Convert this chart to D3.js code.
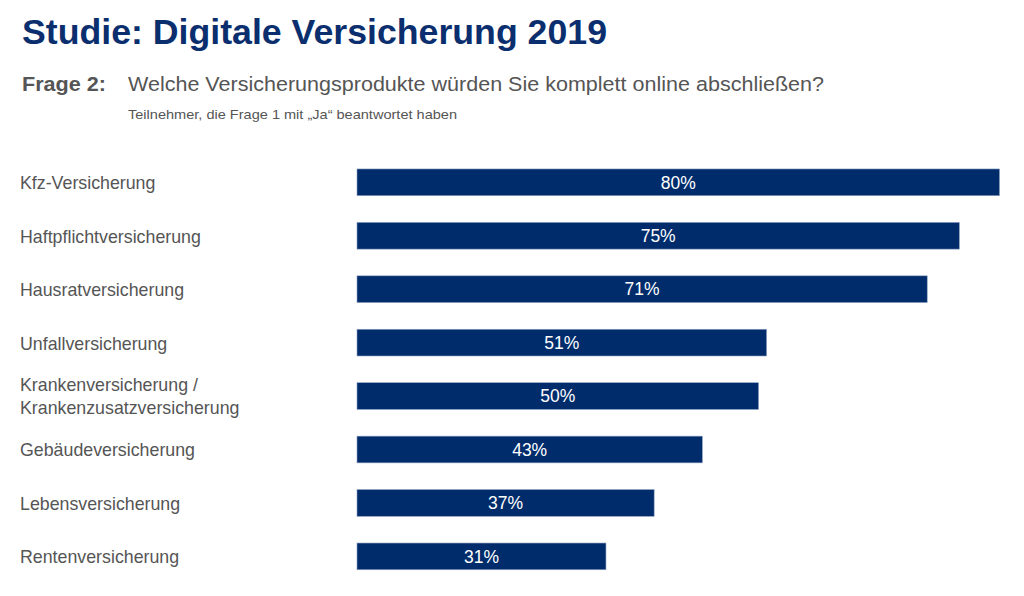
<!DOCTYPE html>
<html><head><meta charset="utf-8">
<script src="https://cdn.jsdelivr.net/npm/d3@7"></script>
<style>body{margin:0;background:#fff}svg{display:block}</style>
</head><body>
<svg id="c" width="1024" height="596"></svg>
<script>
const categories = [
  ["Kfz-Versicherung"],
  ["Haftpflichtversicherung"],
  ["Hausratversicherung"],
  ["Unfallversicherung"],
  ["Krankenversicherung /", "Krankenzusatzversicherung"],
  ["Gebäudeversicherung"],
  ["Lebensversicherung"],
  ["Rentenversicherung"]
];
const values = [80, 75, 71, 51, 50, 43, 37, 31];
const valueLabels = ["80%", "75%", "71%", "51%", "50%", "43%", "37%", "31%"];

const svg = d3.select("#c");
const font = "'Liberation Sans', Arial, Helvetica, sans-serif";
const blue = "#002c6c";
const grey = "#555555";

svg.append("text").attr("x", 22).attr("y", 44)
  .attr("font-family", font).attr("font-size", 34.5).attr("font-weight", "bold")
  .attr("fill", "#0b2f6e").attr("textLength", 585).attr("lengthAdjust", "spacingAndGlyphs")
  .text("Studie: Digitale Versicherung 2019");

svg.append("text").attr("x", 22).attr("y", 91)
  .attr("font-family", font).attr("font-size", 20.5).attr("font-weight", "bold")
  .attr("fill", grey).attr("textLength", 84).attr("lengthAdjust", "spacingAndGlyphs")
  .text("Frage 2:");
svg.append("text").attr("x", 128).attr("y", 91)
  .attr("font-family", font).attr("font-size", 20.5)
  .attr("fill", grey).attr("textLength", 696).attr("lengthAdjust", "spacingAndGlyphs")
  .text("Welche Versicherungsprodukte würden Sie komplett online abschließen?");
svg.append("text").attr("x", 128).attr("y", 119)
  .attr("font-family", font).attr("font-size", 13.5)
  .attr("fill", grey).attr("textLength", 329).attr("lengthAdjust", "spacingAndGlyphs")
  .text("Teilnehmer, die Frage 1 mit „Ja“ beantwortet haben");

const idx = d3.range(values.length);
const y = d3.scaleBand().domain(idx).range([155.6, 583.1]).paddingInner(0.5).paddingOuter(0.25);
const x = d3.scaleLinear().domain([0, 80]).range([357, 999.5]);

const g = svg.append("g");
g.selectAll("rect").data(idx).join("rect")
  .attr("x", x(0)).attr("y", i => y(i))
  .attr("width", i => x(values[i]) - x(0)).attr("height", y.bandwidth())
  .attr("fill", blue).attr("stroke", "#8ea0c0").attr("stroke-width", 0.6);

g.selectAll("text.v").data(idx).join("text").attr("class", "v")
  .attr("x", i => (x(0) + x(values[i])) / 2).attr("y", i => y(i) + y.bandwidth() / 2)
  .attr("dy", "0.36em").attr("text-anchor", "middle")
  .attr("font-family", font).attr("font-size", 17.5).attr("fill", "#fff")
  .text(i => valueLabels[i]);

const lab = g.selectAll("text.l").data(idx).join("text").attr("class", "l")
  .attr("font-family", font).attr("font-size", 17.8).attr("fill", grey);
lab.each(function(i) {
  const lines = categories[i];
  const cy = y(i) + y.bandwidth() / 2 + 0.5;
  const lh = 23;
  d3.select(this).selectAll("tspan").data(lines).join("tspan")
    .attr("x", 20)
    .attr("y", (d, k) => cy + (k - (lines.length - 1) / 2) * lh)
    .attr("dy", "0.36em")
    .text(d => d);
});
</script>
</body></html>
